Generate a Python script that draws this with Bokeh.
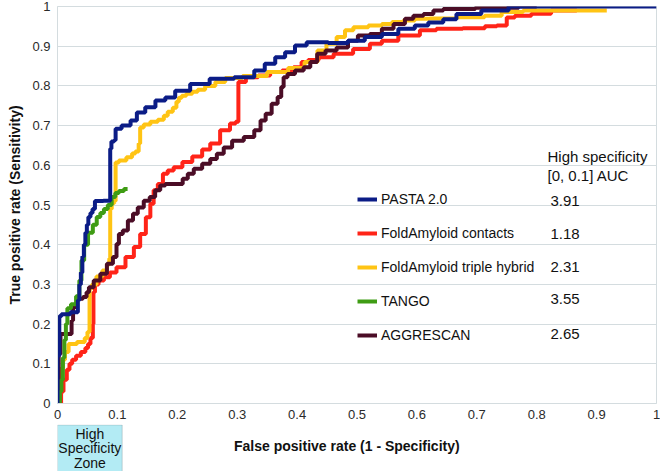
from bokeh.plotting import figure
from bokeh.layouts import column
from bokeh.models import Range1d, FixedTicker, Legend, LegendItem, Label, ColumnDataSource, BoxAnnotation
from bokeh.core.properties import value
from bokeh.embed import file_html
from bokeh.resources import INLINE

FONT = "Liberation Sans"

tick_labels = ["0", "0.1", "0.2", "0.3", "0.4", "0.5", "0.6", "0.7", "0.8", "0.9", "1"]

series_names = ["PASTA 2.0", "FoldAmyloid contacts", "FoldAmyloid triple hybrid", "TANGO", "AGGRESCAN"]
auc_values = ["3.91", "1.18", "2.31", "3.55", "2.65"]
colors = ["#0b1c86", "#ff2418", "#ffc414", "#3f9c14", "#4b0d26"]
high_spec_zone = (0.0, 0.108)
zone_words = ["High", "Specificity", "Zone"]

pasta_fpr = [0.0, 0.0, 0.003, 0.003, 0.01, 0.033, 0.035, 0.038, 0.04, 0.043, 0.045, 0.048, 0.05, 0.053, 0.057, 0.06, 0.065, 0.088, 0.088, 0.092, 0.097, 0.097, 0.117, 0.127, 0.138, 0.155, 0.172, 0.188, 0.205, 0.238, 0.27, 0.32, 0.337, 0.355, 0.372, 0.388, 0.405, 0.427, 0.477, 0.493, 0.533, 0.55, 0.588, 0.605, 0.633, 0.655, 0.677, 0.738, 0.768, 1.0]
pasta_tpr = [0.0, 0.12, 0.12, 0.22, 0.225, 0.23, 0.26, 0.3, 0.33, 0.37, 0.4, 0.43, 0.45, 0.47, 0.48, 0.49, 0.51, 0.511, 0.642, 0.66, 0.663, 0.692, 0.7, 0.713, 0.733, 0.746, 0.763, 0.771, 0.788, 0.805, 0.818, 0.822, 0.839, 0.856, 0.872, 0.885, 0.902, 0.91, 0.908, 0.914, 0.923, 0.931, 0.944, 0.952, 0.96, 0.968, 0.981, 0.99, 1.0, 1.0]

contacts_fpr = [0.005, 0.007, 0.013, 0.018, 0.022, 0.027, 0.035, 0.043, 0.05, 0.052, 0.058, 0.06, 0.06, 0.065, 0.072, 0.083, 0.092, 0.105, 0.122, 0.133, 0.143, 0.152, 0.158, 0.163, 0.172, 0.18, 0.188, 0.2, 0.217, 0.233, 0.25, 0.26, 0.283, 0.293, 0.302, 0.302, 0.327, 0.343, 0.367, 0.383, 0.405, 0.41, 0.427, 0.445, 0.477, 0.51, 0.533, 0.55, 0.588, 0.622, 0.643, 0.71, 0.717, 0.75, 0.75, 0.777, 0.805, 0.843, 0.867]
contacts_tpr = [0.0, 0.03, 0.06, 0.085, 0.1, 0.11, 0.12, 0.13, 0.14, 0.15, 0.165, 0.2, 0.28, 0.3, 0.31, 0.318, 0.33, 0.343, 0.369, 0.394, 0.427, 0.469, 0.503, 0.537, 0.553, 0.579, 0.587, 0.595, 0.608, 0.622, 0.64, 0.655, 0.688, 0.705, 0.71, 0.81, 0.822, 0.826, 0.835, 0.839, 0.847, 0.86, 0.865, 0.872, 0.881, 0.893, 0.906, 0.914, 0.927, 0.94, 0.944, 0.945, 0.95, 0.952, 0.972, 0.977, 0.982, 0.99, 0.99]

triple_fpr = [0.003, 0.005, 0.008, 0.01, 0.015, 0.022, 0.043, 0.048, 0.052, 0.055, 0.06, 0.07, 0.08, 0.085, 0.088, 0.088, 0.093, 0.097, 0.097, 0.108, 0.122, 0.127, 0.133, 0.138, 0.138, 0.15, 0.16, 0.175, 0.18, 0.188, 0.197, 0.2, 0.205, 0.21, 0.22, 0.23, 0.238, 0.255, 0.272, 0.288, 0.33, 0.37, 0.4, 0.425, 0.443, 0.455, 0.477, 0.483, 0.505, 0.533, 0.55, 0.567, 0.588, 0.605, 0.638, 0.693, 0.733, 0.75, 0.805, 0.917]
triple_tpr = [0.03, 0.06, 0.09, 0.11, 0.13, 0.15, 0.155, 0.165, 0.18, 0.29, 0.3, 0.32, 0.335, 0.35, 0.365, 0.49, 0.505, 0.51, 0.607, 0.612, 0.62, 0.63, 0.635, 0.655, 0.695, 0.703, 0.71, 0.715, 0.725, 0.735, 0.745, 0.76, 0.77, 0.775, 0.78, 0.785, 0.79, 0.8, 0.81, 0.82, 0.825, 0.835, 0.845, 0.86, 0.889, 0.906, 0.923, 0.94, 0.948, 0.952, 0.956, 0.961, 0.965, 0.969, 0.97, 0.973, 0.977, 0.986, 0.99, 0.99]

tango_fpr = [0.003, 0.005, 0.008, 0.01, 0.013, 0.015, 0.018, 0.027, 0.035, 0.038, 0.042, 0.047, 0.055, 0.063, 0.068, 0.075, 0.08, 0.088, 0.093, 0.1, 0.105, 0.117]
tango_tpr = [0.0, 0.03, 0.06, 0.115, 0.16, 0.2, 0.24, 0.25, 0.27, 0.31, 0.36, 0.4, 0.43, 0.45, 0.47, 0.48, 0.49, 0.5, 0.52, 0.53, 0.535, 0.54]

aggrescan_fpr = [0.002, 0.002, 0.008, 0.022, 0.025, 0.027, 0.038, 0.047, 0.05, 0.055, 0.066, 0.077, 0.088, 0.097, 0.1, 0.105, 0.113, 0.122, 0.13, 0.138, 0.15, 0.158, 0.168, 0.175, 0.185, 0.205, 0.213, 0.222, 0.233, 0.25, 0.26, 0.272, 0.283, 0.3, 0.322, 0.335, 0.343, 0.352, 0.363, 0.372, 0.375, 0.38, 0.388, 0.405, 0.417, 0.427, 0.44, 0.455, 0.477, 0.493, 0.51, 0.533, 0.55, 0.572, 0.588, 0.6, 0.622, 0.633, 0.655, 0.74, 0.8]
aggrescan_tpr = [0.02, 0.125, 0.175, 0.175, 0.209, 0.243, 0.264, 0.268, 0.28, 0.293, 0.31, 0.327, 0.352, 0.369, 0.402, 0.427, 0.436, 0.461, 0.478, 0.494, 0.511, 0.52, 0.537, 0.549, 0.553, 0.553, 0.566, 0.579, 0.591, 0.604, 0.616, 0.629, 0.645, 0.662, 0.671, 0.688, 0.713, 0.73, 0.755, 0.772, 0.797, 0.822, 0.83, 0.839, 0.847, 0.86, 0.881, 0.889, 0.897, 0.914, 0.927, 0.931, 0.944, 0.956, 0.969, 0.977, 0.981, 0.99, 0.994, 0.997, 1.0]

# layout (not data)
legend_row_y = [0.511, 0.426, 0.345, 0.262, 0.176]
zone_line_y = [38, 23.5, 9]

GRID = "#d4dcdf"
W = 660
H_MAIN = 424
H_STRIP = 47

p = figure(width=W, height=H_MAIN, output_backend="svg", toolbar_location=None,
           x_range=Range1d(0, 1), y_range=Range1d(0, 1),
           min_border_left=57, min_border_right=4, min_border_top=6, min_border_bottom=21)
p.background_fill_color = "white"
p.border_fill_color = "white"
p.outline_line_color = GRID

ticks = [float(s) for s in tick_labels]
overrides = {t: s for t, s in zip(ticks, tick_labels)}
for ax in (p.xaxis[0], p.yaxis[0]):
    ax.ticker = FixedTicker(ticks=ticks)
    ax.major_label_overrides = overrides
    ax.major_tick_line_color = None
    ax.major_tick_out = 0
    ax.major_tick_in = 0
    ax.minor_tick_line_color = None
    ax.minor_tick_out = 0
    ax.axis_line_color = GRID
    ax.major_label_text_font = FONT
    ax.major_label_text_font_size = "13px"
    ax.major_label_text_color = "#2a2a2a"
    ax.axis_label_text_font = FONT
    ax.axis_label_text_font_size = "14px"
    ax.axis_label_text_font_style = "bold"
    ax.axis_label_text_color = "#111111"

p.yaxis.axis_label = "True positive rate (Sensitivity)"
p.xaxis.major_label_standoff = 6
p.yaxis.major_label_standoff = 7
p.yaxis.axis_label_standoff = 6

p.xgrid.grid_line_color = None
p.ygrid.grid_line_color = GRID
p.ygrid.grid_line_width = 1

data = {
    "PASTA 2.0": (pasta_fpr, pasta_tpr),
    "FoldAmyloid contacts": (contacts_fpr, contacts_tpr),
    "FoldAmyloid triple hybrid": (triple_fpr, triple_tpr),
    "TANGO": (tango_fpr, tango_tpr),
    "AGGRESCAN": (aggrescan_fpr, aggrescan_tpr),
}
color_of = dict(zip(series_names, colors))

renderers = {}
draw_order = ["FoldAmyloid contacts", "FoldAmyloid triple hybrid", "AGGRESCAN", "TANGO", "PASTA 2.0"]
for name in draw_order:
    xs, ys = data[name]
    r = p.step(x=xs, y=ys, mode="center", line_color=color_of[name], line_width=4)
    renderers[name] = r

legend = Legend(items=[LegendItem(label=n, renderers=[renderers[n]]) for n in series_names],
                location=(300, 58), orientation="vertical",
                padding=0, margin=0, spacing=14, label_height=20, glyph_height=20,
                glyph_width=20, label_standoff=4,
                background_fill_alpha=0, border_line_color=None,
                label_text_font=FONT, label_text_font_size="14px", label_text_color="#111111")
p.add_layout(legend, "center")

src = ColumnDataSource(dict(x=[0.823] * len(auc_values), y=legend_row_y, text=auc_values))
p.text(x="x", y="y", text="text", source=src, text_font=value(FONT), text_font_size="15px",
       text_baseline="middle", text_align="left", text_color="#111111")

p.add_layout(Label(x=0.818, y=0.622, text="High specificity", text_font=FONT, text_font_size="15px",
                   text_baseline="middle", text_color="#111111"))
p.add_layout(Label(x=0.818, y=0.574, text="[0, 0.1] AUC", text_font=FONT, text_font_size="15px",
                   text_baseline="middle", text_color="#111111"))

# strip below the chart: high-specificity zone box and x-axis title
p2 = figure(width=W, height=H_STRIP, output_backend="svg", toolbar_location=None,
            x_range=p.x_range, y_range=Range1d(0, H_STRIP),
            x_axis_location=None, y_axis_location=None,
            min_border_left=57, min_border_right=4, min_border_top=0, min_border_bottom=0)
p2.outline_line_color = None
p2.background_fill_color = "white"
p2.border_fill_color = "white"
p2.xgrid.visible = False
p2.ygrid.visible = False
p2.add_layout(BoxAnnotation(left=high_spec_zone[0], right=high_spec_zone[1], top=H_STRIP - 0.5, bottom=-10,
                            fill_color="#b3ebf4", fill_alpha=1.0, line_color="#6a7f84", line_width=1))
for word, yy in zip(zone_words, zone_line_y):
    p2.add_layout(Label(x=sum(high_spec_zone) / 2, y=yy, text=word,
                        text_align="center", text_baseline="middle", text_font=FONT,
                        text_font_size="14px", text_color="#111111"))
p2.add_layout(Label(x=0.483, y=H_STRIP - 21, text="False positive rate (1 - Specificity)",
                    text_align="center", text_baseline="middle", text_font=FONT,
                    text_font_size="14px", text_font_style="bold", text_color="#111111"))

layout = column(p, p2, spacing=0)
open("out.html", "w").write(file_html(layout, INLINE))
